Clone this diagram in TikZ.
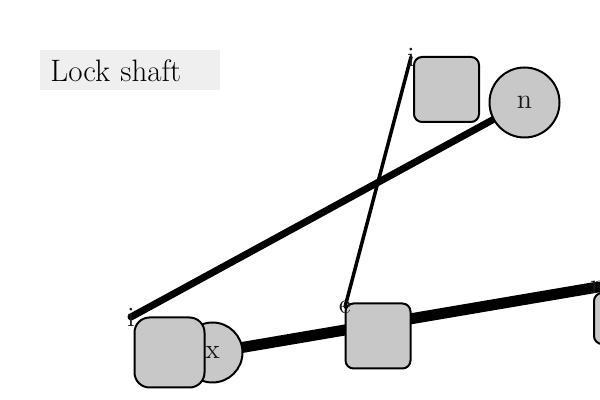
\documentclass[tikz,border=0pt]{standalone}
\usetikzlibrary{backgrounds}
\definecolor{nodegray}{HTML}{C8C8C8}
\definecolor{titlegray}{HTML}{EFEFEF}
\begin{document}
\begin{tikzpicture}[x=0.5pt,y=-0.5pt,
  sqbox/.style={draw=black, line width=1pt, fill=nodegray, rounded corners=4pt, minimum size=32.5pt, inner sep=0pt},
  circnode/.style={circle, draw=black, line width=1pt, fill=nodegray, inner sep=0pt, text=black!90, font=\fontsize{14}{16}\selectfont},
  cornerlbl/.style={inner sep=0pt, text=black!90, font=\fontsize{14}{16}\selectfont},
  titlebox/.style={fill=titlegray, inner xsep=5pt, inner ysep=0pt, text width=80pt, align=left, minimum height=20pt, font=\fontsize{15.5}{18}\selectfont, text=black},
  link/.style={draw=black, line cap=round}]
\useasboundingbox (0,0) rectangle (600,400);
\clip (0,0) rectangle (600,400);
\node[titlebox, anchor=north west] (title) at (40,50) {Lock shaft};
\node[sqbox] (boxi) at (446.5,89.5) {};
\node[circnode, minimum size=35pt] (nodeN) at (524.5,102.5) {n};
\node[circnode, minimum size=30pt] (nodeX) at (212.5,352.5) {x};
\node[sqbox, rounded corners=7.5pt, minimum size=35pt] (boxbl) at (169.5,352.5) {};
\node[sqbox] (boxe) at (378,336) {};
\node[sqbox, anchor=north west, minimum height=25.5pt] (boxr) at (593,292) {};
\node[cornerlbl] (li1) at (411,57) {i};
\node[cornerlbl] (le) at (345,307) {e};
\node[cornerlbl] (li2) at (131,317) {i};
\node[cornerlbl] (ln) at (598,287) {n};
\begin{scope}[on background layer]
\draw[link, line width=1.75pt] (li1.center) -- (le.center);
\draw[link, line width=3.5pt] (nodeN.center) -- (li2.center);
\draw[link, line width=5.5pt] (nodeX.center) -- (ln.center);
\end{scope}
\end{tikzpicture}
\end{document}
